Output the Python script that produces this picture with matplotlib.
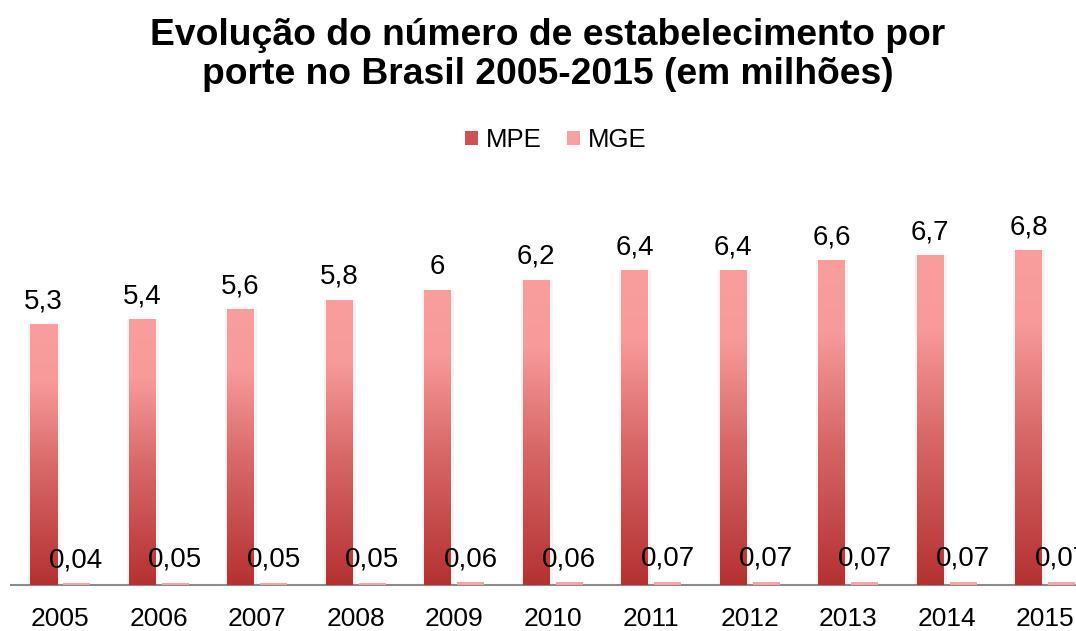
import numpy as np
import matplotlib
matplotlib.use("Agg")
import matplotlib.pyplot as plt
from matplotlib.colors import LinearSegmentedColormap
from matplotlib.patches import Patch

plt.rcParams['font.family'] = ['Liberation Sans', 'DejaVu Sans']

# data (millions)
years = ['2005', '2006', '2007', '2008', '2009', '2010', '2011', '2012', '2013', '2014', '2015']
mpe = [5.3, 5.4, 5.6, 5.8, 6.0, 6.2, 6.4, 6.4, 6.6, 6.7, 6.8]
mge = [0.04, 0.05, 0.05, 0.05, 0.06, 0.06, 0.07, 0.07, 0.07, 0.07, 0.07]
mpe_labels = ['5,3', '5,4', '5,6', '5,8', '6', '6,2', '6,4', '6,4', '6,6', '6,7', '6,8']
mge_labels = ['0,04', '0,05', '0,05', '0,05', '0,06', '0,06', '0,07', '0,07', '0,07', '0,07', '0,07']

W, H = 1076, 631
fig = plt.figure(figsize=(W / 100, H / 100), dpi=100)

# axes placed in pixels: axis line at y=585, first category centre at x=60, 98.5 px per category
step = 98.5
left_px = 60 - step / 2
ax = fig.add_axes([left_px / W, (H - 585) / H, 11 * step / W, 8 * 49.2 / H])

x = np.arange(len(years))
off = 16.5 / step
bw = 27 / step

cmap = LinearSegmentedColormap.from_list('mpe', [(0, '#b53131'), (0.45, '#d86868'),
                                                 (0.78, '#f89a9a'), (1, '#f99d9d')])
grad = np.linspace(0, 1, 256).reshape(-1, 1)

bars = ax.bar(x - off, mpe, bw, color='none', edgecolor='none', zorder=3)
for b in bars:
    bx = b.get_x()
    # soft shadow
    ax.bar(bx + b.get_width() / 2 + 0.008, b.get_height(), b.get_width() + 0.05,
           color='#000000', alpha=0.045, zorder=2)
    im = ax.imshow(grad, extent=[bx, bx + b.get_width(), 0, b.get_height()],
                   origin='lower', aspect='auto', cmap=cmap, zorder=3)
    im.set_clip_path(b)

ax.bar(x + off, mge, bw, color='#f9a3a3', zorder=3)

for i in range(len(years)):
    ax.annotate(mpe_labels[i], (x[i] - off, mpe[i]), xytext=(0, 11.5), textcoords='offset points',
                ha='center', va='baseline', fontsize=20)
    ax.annotate(mge_labels[i], (x[i] + off, mge[i]), xytext=(0, 11.5), textcoords='offset points',
                ha='center', va='baseline', fontsize=20)

ax.set_xticks(x)
ax.set_xticklabels(years, fontsize=19)
ax.tick_params(axis='x', length=0, pad=16)
ax.set_yticks([])
for s in ['left', 'right', 'top']:
    ax.spines[s].set_visible(False)
ax.spines['bottom'].set_color('#8c8c8c')
ax.spines['bottom'].set_linewidth(1.5)
ax.set_xlim(-0.5, 10.5)
ax.set_ylim(0, 8)

fig.text(548 / W, 1 - 55 / H, 'Evolução do número de estabelecimento por\nporte no Brasil 2005-2015 (em milhões)',
         ha='center', va='center', fontsize=26.8, fontweight='bold', linespacing=1.15)

handles = [Patch(facecolor='#cf5252', label='MPE'), Patch(facecolor='#f6a2a2', label='MGE')]
fig.legend(handles=handles, loc='center', bbox_to_anchor=(556 / W, 1 - 140 / H), ncol=2,
           frameon=False, fontsize=18.5, handlelength=0.5, handleheight=0.5,
           handletextpad=0.3, columnspacing=1.0)

fig.savefig('out.png', dpi=100)
